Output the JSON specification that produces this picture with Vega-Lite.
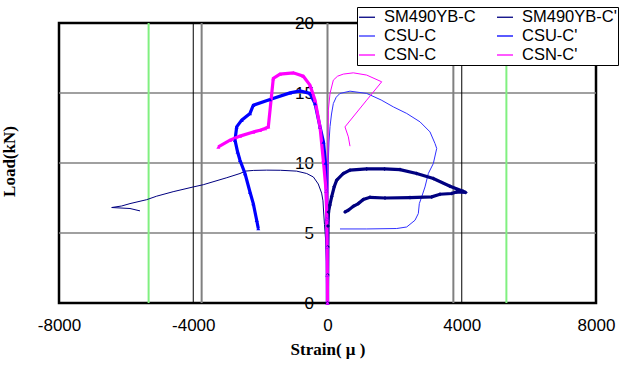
{
  "$schema": "https://vega.github.io/schema/vega-lite/v6.json",
  "width": 537,
  "height": 280,
  "autosize": {"type": "none"},
  "padding": {"left": 59, "top": 23, "right": 28, "bottom": 64},
  "background": "white",
  "config": {"view": {"stroke": "black", "strokeWidth": 2.5}, "font": "Liberation Sans"},
  "datasets": {
    "hgrid": [{"y": 5}, {"y": 10}, {"y": 15}],
    "grayV": [{"x": -3750}, {"x": 0}, {"x": 3750}],
    "blackV": [{"x": -4000}, {"x": 4000}],
    "greenV": [{"x": -5330}, {"x": 5330}],
    "curves": [
      {"s": "SM490YB-C", "i": 0, "x": 0, "y": 0},
      {"s": "SM490YB-C", "i": 1, "x": -15, "y": 1.5},
      {"s": "SM490YB-C", "i": 2, "x": -30, "y": 3},
      {"s": "SM490YB-C", "i": 3, "x": -55, "y": 4.5},
      {"s": "SM490YB-C", "i": 4, "x": -90, "y": 5.6},
      {"s": "SM490YB-C", "i": 5, "x": -115, "y": 6.5},
      {"s": "SM490YB-C", "i": 6, "x": -135, "y": 7.3},
      {"s": "SM490YB-C", "i": 7, "x": -175, "y": 7.85},
      {"s": "SM490YB-C", "i": 8, "x": -275, "y": 8.5},
      {"s": "SM490YB-C", "i": 9, "x": -420, "y": 9.0},
      {"s": "SM490YB-C", "i": 10, "x": -620, "y": 9.25},
      {"s": "SM490YB-C", "i": 11, "x": -920, "y": 9.42},
      {"s": "SM490YB-C", "i": 12, "x": -1400, "y": 9.48},
      {"s": "SM490YB-C", "i": 13, "x": -1812, "y": 9.49},
      {"s": "SM490YB-C", "i": 14, "x": -2200, "y": 9.47},
      {"s": "SM490YB-C", "i": 15, "x": -2450, "y": 9.42},
      {"s": "SM490YB-C", "i": 16, "x": -2607, "y": 9.25},
      {"s": "SM490YB-C", "i": 17, "x": -3000, "y": 8.95},
      {"s": "SM490YB-C", "i": 18, "x": -3700, "y": 8.45},
      {"s": "SM490YB-C", "i": 19, "x": -4000, "y": 8.29},
      {"s": "SM490YB-C", "i": 20, "x": -4600, "y": 7.95},
      {"s": "SM490YB-C", "i": 21, "x": -5090, "y": 7.63},
      {"s": "SM490YB-C", "i": 22, "x": -5387, "y": 7.38},
      {"s": "SM490YB-C", "i": 23, "x": -5885, "y": 7.1},
      {"s": "SM490YB-C", "i": 24, "x": -6131, "y": 6.93},
      {"s": "SM490YB-C", "i": 25, "x": -6430, "y": 6.82},
      {"s": "SM490YB-C", "i": 26, "x": -5885, "y": 6.75},
      {"s": "SM490YB-C", "i": 27, "x": -5587, "y": 6.58},

      {"s": "SM490YB-C'", "i": 0, "x": 0, "y": 0},
      {"s": "SM490YB-C'", "i": 1, "x": 5, "y": 2},
      {"s": "SM490YB-C'", "i": 2, "x": 10, "y": 4},
      {"s": "SM490YB-C'", "i": 3, "x": 15, "y": 5.5},
      {"s": "SM490YB-C'", "i": 4, "x": 30, "y": 6.5},
      {"s": "SM490YB-C'", "i": 5, "x": 70, "y": 7.0},
      {"s": "SM490YB-C'", "i": 6, "x": 125, "y": 7.6},
      {"s": "SM490YB-C'", "i": 7, "x": 200, "y": 8.3},
      {"s": "SM490YB-C'", "i": 8, "x": 274, "y": 8.77},
      {"s": "SM490YB-C'", "i": 9, "x": 471, "y": 9.25},
      {"s": "SM490YB-C'", "i": 10, "x": 670, "y": 9.49},
      {"s": "SM490YB-C'", "i": 11, "x": 1168, "y": 9.58},
      {"s": "SM490YB-C'", "i": 12, "x": 1700, "y": 9.58},
      {"s": "SM490YB-C'", "i": 13, "x": 2160, "y": 9.53},
      {"s": "SM490YB-C'", "i": 14, "x": 2658, "y": 9.25},
      {"s": "SM490YB-C'", "i": 15, "x": 3153, "y": 8.89},
      {"s": "SM490YB-C'", "i": 16, "x": 3650, "y": 8.34},
      {"s": "SM490YB-C'", "i": 17, "x": 4037, "y": 7.98},
      {"s": "SM490YB-C'", "i": 18, "x": 4120, "y": 7.9},
      {"s": "SM490YB-C'", "i": 19, "x": 3850, "y": 7.93},
      {"s": "SM490YB-C'", "i": 20, "x": 3700, "y": 7.82},
      {"s": "SM490YB-C'", "i": 21, "x": 3352, "y": 7.77},
      {"s": "SM490YB-C'", "i": 22, "x": 3105, "y": 7.58},
      {"s": "SM490YB-C'", "i": 23, "x": 2458, "y": 7.53},
      {"s": "SM490YB-C'", "i": 24, "x": 1713, "y": 7.5},
      {"s": "SM490YB-C'", "i": 25, "x": 1266, "y": 7.55},
      {"s": "SM490YB-C'", "i": 26, "x": 1067, "y": 7.39},
      {"s": "SM490YB-C'", "i": 27, "x": 918, "y": 7.1},
      {"s": "SM490YB-C'", "i": 28, "x": 769, "y": 6.91},
      {"s": "SM490YB-C'", "i": 29, "x": 621, "y": 6.63},
      {"s": "SM490YB-C'", "i": 30, "x": 521, "y": 6.5},

      {"s": "CSU-C", "i": 0, "x": 0, "y": 0},
      {"s": "CSU-C", "i": 1, "x": 5, "y": 3},
      {"s": "CSU-C", "i": 2, "x": 10, "y": 6},
      {"s": "CSU-C", "i": 3, "x": 15, "y": 8.5},
      {"s": "CSU-C", "i": 4, "x": 25, "y": 10.2},
      {"s": "CSU-C", "i": 5, "x": 45, "y": 11.5},
      {"s": "CSU-C", "i": 6, "x": 75, "y": 12.6},
      {"s": "CSU-C", "i": 7, "x": 120, "y": 13.5},
      {"s": "CSU-C", "i": 8, "x": 174, "y": 14.25},
      {"s": "CSU-C", "i": 9, "x": 260, "y": 14.7},
      {"s": "CSU-C", "i": 10, "x": 372, "y": 14.97},
      {"s": "CSU-C", "i": 11, "x": 670, "y": 15.13},
      {"s": "CSU-C", "i": 12, "x": 1168, "y": 14.97},
      {"s": "CSU-C", "i": 13, "x": 1600, "y": 14.5},
      {"s": "CSU-C", "i": 14, "x": 1961, "y": 14.01},
      {"s": "CSU-C", "i": 15, "x": 2360, "y": 13.54},
      {"s": "CSU-C", "i": 16, "x": 2756, "y": 12.94},
      {"s": "CSU-C", "i": 17, "x": 3054, "y": 12.22},
      {"s": "CSU-C", "i": 18, "x": 3203, "y": 11.39},
      {"s": "CSU-C", "i": 19, "x": 3254, "y": 11.04},
      {"s": "CSU-C", "i": 20, "x": 3153, "y": 9.96},
      {"s": "CSU-C", "i": 21, "x": 3004, "y": 9.25},
      {"s": "CSU-C", "i": 22, "x": 2905, "y": 8.29},
      {"s": "CSU-C", "i": 23, "x": 2806, "y": 7.58},
      {"s": "CSU-C", "i": 24, "x": 2736, "y": 7.1},
      {"s": "CSU-C", "i": 25, "x": 2706, "y": 6.39},
      {"s": "CSU-C", "i": 26, "x": 2607, "y": 5.91},
      {"s": "CSU-C", "i": 27, "x": 2360, "y": 5.43},
      {"s": "CSU-C", "i": 28, "x": 2062, "y": 5.32},
      {"s": "CSU-C", "i": 29, "x": 1168, "y": 5.29},
      {"s": "CSU-C", "i": 30, "x": 372, "y": 5.29},

      {"s": "CSU-C'", "i": 0, "x": 0, "y": 0},
      {"s": "CSU-C'", "i": 1, "x": -5, "y": 2},
      {"s": "CSU-C'", "i": 2, "x": -10, "y": 4},
      {"s": "CSU-C'", "i": 3, "x": -20, "y": 6},
      {"s": "CSU-C'", "i": 4, "x": -35, "y": 8},
      {"s": "CSU-C'", "i": 5, "x": -60, "y": 10},
      {"s": "CSU-C'", "i": 6, "x": -120, "y": 11.5},
      {"s": "CSU-C'", "i": 7, "x": -223, "y": 12.58},
      {"s": "CSU-C'", "i": 8, "x": -372, "y": 14.25},
      {"s": "CSU-C'", "i": 9, "x": -521, "y": 14.97},
      {"s": "CSU-C'", "i": 10, "x": -819, "y": 15.15},
      {"s": "CSU-C'", "i": 11, "x": -1117, "y": 15.01},
      {"s": "CSU-C'", "i": 12, "x": -1713, "y": 14.54},
      {"s": "CSU-C'", "i": 13, "x": -2211, "y": 14.13},
      {"s": "CSU-C'", "i": 14, "x": -2310, "y": 13.54},
      {"s": "CSU-C'", "i": 15, "x": -2557, "y": 13.06},
      {"s": "CSU-C'", "i": 16, "x": -2706, "y": 12.58},
      {"s": "CSU-C'", "i": 17, "x": -2756, "y": 11.63},
      {"s": "CSU-C'", "i": 18, "x": -2680, "y": 10.8},
      {"s": "CSU-C'", "i": 19, "x": -2607, "y": 10.2},
      {"s": "CSU-C'", "i": 20, "x": -2458, "y": 9.25},
      {"s": "CSU-C'", "i": 21, "x": -2310, "y": 7.93},
      {"s": "CSU-C'", "i": 22, "x": -2211, "y": 7.1},
      {"s": "CSU-C'", "i": 23, "x": -2110, "y": 5.91},
      {"s": "CSU-C'", "i": 24, "x": -2062, "y": 5.32},

      {"s": "CSN-C", "i": 0, "x": 0, "y": 0},
      {"s": "CSN-C", "i": 1, "x": 5, "y": 4},
      {"s": "CSN-C", "i": 2, "x": 10, "y": 8},
      {"s": "CSN-C", "i": 3, "x": 15, "y": 11},
      {"s": "CSN-C", "i": 4, "x": 25, "y": 13.77},
      {"s": "CSN-C", "i": 5, "x": 75, "y": 14.97},
      {"s": "CSN-C", "i": 6, "x": 174, "y": 15.92},
      {"s": "CSN-C", "i": 7, "x": 300, "y": 16.2},
      {"s": "CSN-C", "i": 8, "x": 471, "y": 16.35},
      {"s": "CSN-C", "i": 9, "x": 769, "y": 16.44},
      {"s": "CSN-C", "i": 10, "x": 1168, "y": 16.28},
      {"s": "CSN-C", "i": 11, "x": 1615, "y": 15.8},
      {"s": "CSN-C", "i": 12, "x": 1168, "y": 14.49},
      {"s": "CSN-C", "i": 13, "x": 521, "y": 12.58},
      {"s": "CSN-C", "i": 14, "x": 621, "y": 11.87},
      {"s": "CSN-C", "i": 15, "x": 670, "y": 11.2},

      {"s": "CSN-C'", "i": 0, "x": 0, "y": 0},
      {"s": "CSN-C'", "i": 1, "x": -5, "y": 2},
      {"s": "CSN-C'", "i": 2, "x": -10, "y": 4},
      {"s": "CSN-C'", "i": 3, "x": -20, "y": 6},
      {"s": "CSN-C'", "i": 4, "x": -40, "y": 8},
      {"s": "CSN-C'", "i": 5, "x": -125, "y": 10.2},
      {"s": "CSN-C'", "i": 6, "x": -223, "y": 12.58},
      {"s": "CSN-C'", "i": 7, "x": -372, "y": 14.49},
      {"s": "CSN-C'", "i": 8, "x": -521, "y": 15.56},
      {"s": "CSN-C'", "i": 9, "x": -721, "y": 16.2},
      {"s": "CSN-C'", "i": 10, "x": -1019, "y": 16.44},
      {"s": "CSN-C'", "i": 11, "x": -1415, "y": 16.35},
      {"s": "CSN-C'", "i": 12, "x": -1615, "y": 16.04},
      {"s": "CSN-C'", "i": 13, "x": -1764, "y": 12.58},
      {"s": "CSN-C'", "i": 14, "x": -1862, "y": 12.47},
      {"s": "CSN-C'", "i": 15, "x": -2011, "y": 12.34},
      {"s": "CSN-C'", "i": 16, "x": -2211, "y": 12.22},
      {"s": "CSN-C'", "i": 17, "x": -2607, "y": 11.92},
      {"s": "CSN-C'", "i": 18, "x": -2905, "y": 11.63},
      {"s": "CSN-C'", "i": 19, "x": -3253, "y": 11.15}
    ]
  },
  "layer": [
    {
      "data": {"name": "hgrid"},
      "mark": {"type": "rule", "color": "#808080", "strokeWidth": 1.5},
      "encoding": {"y": {"field": "y", "type": "quantitative", "title": "Load(kN)"}}
    },
    {
      "data": {"name": "grayV"},
      "mark": {"type": "rule", "color": "#808080", "strokeWidth": 2},
      "encoding": {"x": {"field": "x", "type": "quantitative", "title": "Strain( μ )"}}
    },
    {
      "data": {"name": "blackV"},
      "mark": {"type": "rule", "color": "#000000", "strokeWidth": 1},
      "encoding": {"x": {"field": "x", "type": "quantitative", "title": "Strain( μ )"}}
    },
    {
      "data": {"name": "greenV"},
      "mark": {"type": "rule", "color": "#80f080", "strokeWidth": 2},
      "encoding": {"x": {"field": "x", "type": "quantitative", "title": "Strain( μ )"}}
    },
    {
      "data": {"name": "curves"},
      "transform": [{"filter": "indexof(datum.s, \"'\") < 0"}],
      "mark": {"type": "line", "strokeWidth": 1},
      "encoding": {
        "x": {
          "field": "x", "type": "quantitative",
          "scale": {"domain": [-8000, 8000]},
          "axis": {
            "title": "Strain( μ )", "titleFont": "Liberation Serif", "titleFontWeight": "bold",
            "titleFontSize": 17, "titleColor": "black", "titlePadding": 8,
            "labelFont": "Liberation Sans", "labelFontSize": 17, "labelColor": "black",
            "labelPadding": 14, "ticks": false, "domain": false, "grid": false,
            "values": [-8000, -4000, 0, 4000, 8000], "labelFlush": false,
            "labelExpr": "'' + datum.value"
          }
        },
        "y": {
          "field": "y", "type": "quantitative",
          "scale": {"domain": [0, 20]},
          "axis": {
            "orient": "left", "offset": -268.5, "values": [0, 5, 10, 15, 20],
            "grid": false, "domain": false, "ticks": false,
            "labelPadding": 14, "labelFont": "Liberation Sans", "labelFontSize": 17, "labelColor": "black",
            "title": "Load(kN)", "titleFont": "Liberation Serif", "titleFontWeight": "bold",
            "titleFontSize": 17, "titleColor": "black", "titleX": -309, "titleY": 138
          }
        },
        "color": {
          "field": "s", "type": "nominal",
          "scale": {
            "domain": ["SM490YB-C", "CSU-C", "CSN-C", "SM490YB-C'", "CSU-C'", "CSN-C'"],
            "range": ["#000080", "#3030ff", "#ff00ff", "#000080", "#0000ff", "#ff00ff"]
          },
          "legend": {
            "title": null, "orient": "none", "legendX": 298, "legendY": -16, "columns": 2,
            "symbolType": "stroke", "symbolSize": 256, "symbolStrokeWidth": 1.3,
            "labelFont": "Liberation Sans", "labelFontSize": 16.5, "labelColor": "black",
            "labelOffset": 8, "columnPadding": 18, "rowPadding": 1, "padding": 1,
            "strokeColor": "black", "fillColor": "white",
            "encode": {"symbols": {"update": {"strokeWidth": {"value": 1.3}}}}
          }
        },
        "order": {"field": "i", "type": "quantitative"}
      }
    },
    {
      "data": {"name": "curves"},
      "transform": [{"filter": "indexof(datum.s, \"'\") >= 0"}],
      "mark": {"type": "line", "strokeWidth": 3.2},
      "encoding": {
        "x": {"field": "x", "type": "quantitative"},
        "y": {"field": "y", "type": "quantitative"},
        "color": {"field": "s", "type": "nominal"},
        "order": {"field": "i", "type": "quantitative"}
      }
    },
    {
      "data": {"name": "curves"},
      "transform": [{"filter": "indexof(datum.s, \"'\") >= 0"}],
      "mark": {"type": "point", "filled": true, "size": 16, "opacity": 1},
      "encoding": {
        "x": {"field": "x", "type": "quantitative"},
        "y": {"field": "y", "type": "quantitative"},
        "color": {"field": "s", "type": "nominal"},
        "shape": {
          "field": "s", "type": "nominal",
          "scale": {"domain": ["SM490YB-C'", "CSU-C'", "CSN-C'"], "range": ["diamond", "triangle-up", "triangle-up"]},
          "legend": null
        }
      }
    }
  ]
}
